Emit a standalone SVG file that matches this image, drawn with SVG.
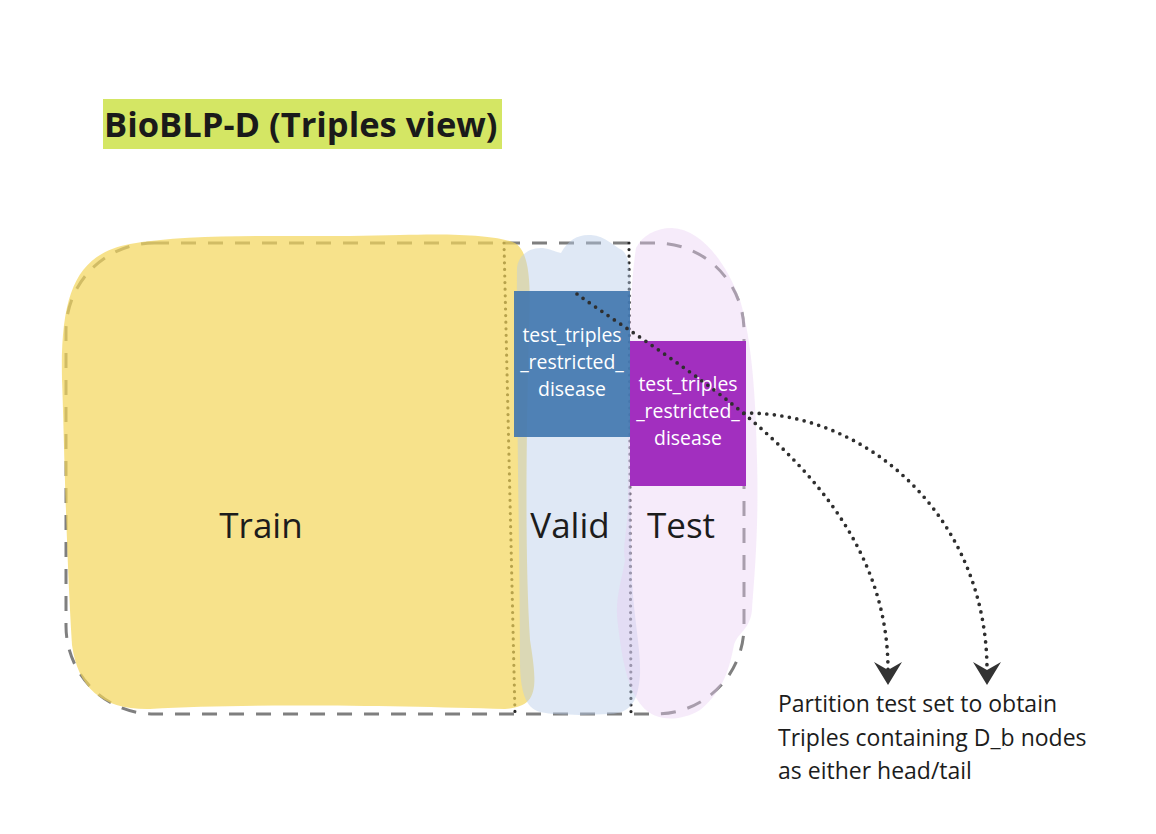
<svg xmlns="http://www.w3.org/2000/svg" width="1156" height="834" viewBox="0 0 1156 834">
<style>
  .lbl{font-family:"Open Sans","Liberation Sans",sans-serif;font-size:35px;fill:#1c1c1c;text-anchor:middle}
  .box{font-family:"Open Sans","Liberation Sans",sans-serif;font-size:19.4px;fill:#ffffff;text-anchor:middle}
  .note{font-family:"Open Sans","Liberation Sans",sans-serif;font-size:23px;fill:#1c1c1c}
  .title{font-family:"Open Sans","Liberation Sans",sans-serif;font-size:34.5px;font-weight:bold;fill:#1a1a1a}
  .vdot{fill:none;stroke:#2a2a2a;stroke-width:3.2;stroke-linecap:round;stroke-dasharray:0 6.6}
  .conn{fill:none;stroke:#2e2e2e;stroke-width:3.7;stroke-linecap:round;stroke-dasharray:0 7.6}
</style>
<defs>
  <marker id="arr" markerUnits="userSpaceOnUse" markerWidth="24" markerHeight="30" viewBox="0 0 24 30" refX="8" refY="15" orient="auto">
    <path d="M0,1 L23,15 L0,29 L8,15 Z" fill="#333333"/>
  </marker>
</defs>
<rect width="1156" height="834" fill="#ffffff"/>

<g id="title">
  <rect x="103" y="99" width="399" height="50" fill="#d4e664"/>
  <text class="title" x="104" y="137">BioBLP-D (Triples view)</text>
</g>

<g id="frame">
  <rect x="66" y="243" width="678" height="471" rx="88" ry="88" fill="none" stroke="#7f7f7f" stroke-width="3" stroke-dasharray="15 12"/>
  <path class="vdot" d="M504,243 L515,714"/>
  <path class="vdot" d="M629,243 L631,714"/>
</g>

<g id="train">
  <path d="M130,244 C200,232 300,238 400,235 C460,233 500,236 515,243 C530,252 531,285 529,330 C526,450 525,560 530,640 C538,690 538,706 505,709 C400,706 250,703 150,709 C102,710 78,688 72,645 C66,550 64,430 62,380 C60,290 78,254 130,244 Z" fill="#f4d65a" fill-opacity="0.7"/>
  <text class="lbl" x="261" y="538">Train</text>
</g>

<g id="valid">
  <path d="M517,268 C518,255 530,247 543,248 C550,249 556,252 561,253 C568,240 578,234 591,235 C606,236 613,246 622,250 C630,256 631,275 630,300 C629,400 630,500 632,580 C634,620 641,650 640,675 C638,700 632,713 610,714 C590,715 560,716 540,712 C525,708 520,690 520,660 C520,560 516,400 517,268 Z" fill="#b8cde8" fill-opacity="0.45"/>
  <text class="lbl" x="570" y="538">Valid</text>
</g>

<g id="test">
  <path d="M636,248 C642,236 655,228 672,228 C700,229 725,260 740,300 C752,340 756,400 757,460 C759,530 754,580 752,610 C750,630 738,632 734,645 C730,665 725,690 700,710 C680,722 655,722 642,706 C628,690 622,660 618,625 C614,600 622,580 625,560 C622,545 628,530 628,500 C628,400 628,300 636,248 Z" fill="#e9ccf3" fill-opacity="0.4"/>
  <text class="lbl" x="681" y="538">Test</text>
</g>

<g id="valid_subset">
  <rect x="514" y="291" width="116" height="146" fill="#3f76ae" fill-opacity="0.9"/>
  <text class="box" x="572" y="342">test_triples</text>
  <text class="box" x="572" y="369">_restricted_</text>
  <text class="box" x="572" y="396">disease</text>
</g>

<g id="test_subset">
  <rect x="630" y="341" width="116" height="145" fill="#a22fbf"/>
  <text class="box" x="688" y="391">test_triples</text>
  <text class="box" x="688" y="418">_restricted_</text>
  <text class="box" x="688" y="445">disease</text>
</g>

<g id="connectors">
  <path class="conn" d="M577,294 C690,375 888,480 888,670" marker-end="url(#arr)"/>
  <path class="conn" d="M744,413 C870,412 987,520 987,670" marker-end="url(#arr)"/>
</g>

<g id="note">
  <text class="note" x="778" y="712">Partition test set to obtain</text>
  <text class="note" x="778" y="745.5">Triples containing D_b nodes</text>
  <text class="note" x="778" y="779">as either head/tail</text>
</g>
</svg>
